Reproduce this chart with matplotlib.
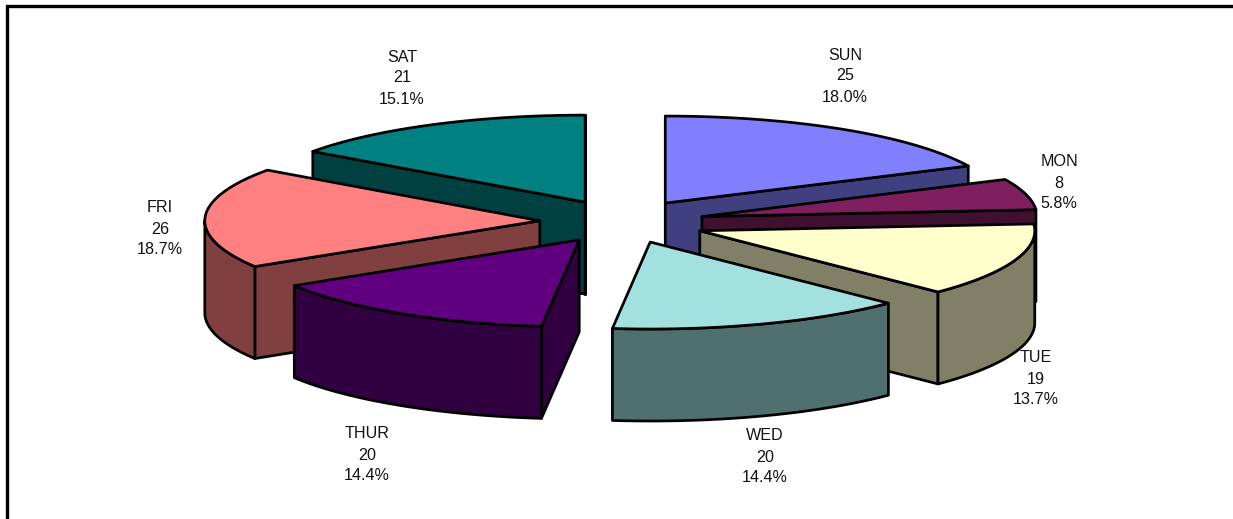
import numpy as np
import matplotlib
matplotlib.use("Agg")
import matplotlib.pyplot as plt
from matplotlib.patches import Polygon

days = ["SUN", "MON", "TUE", "WED", "THUR", "FRI", "SAT"]
counts = [25, 8, 19, 20, 20, 26, 21]

top_colors = ["#8080FF", "#7F1F5F", "#FFFFCC", "#A3E0E0", "#600080", "#FF8080", "#008080"]
side_colors = ["#404080", "#401030", "#808066", "#507070", "#300040", "#804040", "#004040"]
label_centers = [(845, 76), (1059, 183), (1036, 379), (765, 457), (367, 455), (160, 229), (402, 78)]
apex_nudges = [(0.5, 0), (2, 1), (2, 2.5), (2, 1), (2, 1), (0.5, 0.5), (1.5, 0)]
paint_order = [6, 0, 1, 2, 5, 4, 3]

CX, CY = 621.0, 221.0
RX, RY = 335.0, 87.0
DEPTH = 92.0
EXPLODE = 0.244
LW = 1.95

W, H = 1233, 519
fig = plt.figure(figsize=(W / 100, H / 100), dpi=100, facecolor="white")
ax = fig.add_axes([0, 0, 1, 1])
ax.set_xlim(0, W)
ax.set_ylim(H, 0)
ax.axis("off")

plt.rcParams["font.family"] = ["Liberation Sans", "DejaVu Sans"]


def pt(a, r=1.0):
    return np.array([RX * r * np.sin(a), -RY * r * np.cos(a)])


def add(poly, color, z):
    ax.add_patch(Polygon(poly, closed=True, facecolor=color, edgecolor="black",
                         linewidth=LW, joinstyle="round", zorder=z))


def extrude(edge):
    edge = np.asarray(edge)
    return np.vstack([edge, (edge + [0, DEPTH])[::-1]])


total = sum(counts)
edges = np.concatenate([[0], np.cumsum(counts)]) / total * 2 * np.pi
z = 1
for i in paint_order:
    a0, a1 = edges[i], edges[i + 1]
    mid = (a0 + a1) / 2
    apex = np.array([CX, CY]) + pt(mid, EXPLODE) + np.array(apex_nudges[i])
    arc = np.array([apex + pt(a) for a in np.linspace(a0, a1, 80)])

    # radial walls facing the viewer
    if np.sin(a0) <= 1e-9:
        add(extrude([apex, arc[0]]), side_colors[i], z)
        z += 1
    if np.sin(a1) >= -1e-9:
        add(extrude([apex, arc[-1]]), side_colors[i], z)
        z += 1
    # outer rim, front half only
    lo, hi = max(a0, np.pi / 2), min(a1, 3 * np.pi / 2)
    if hi > lo:
        rim = np.array([apex + pt(a) for a in np.linspace(lo, hi, 80)])
        add(extrude(rim), side_colors[i], z)
        z += 1
    add(np.vstack([[apex], arc]), top_colors[i], z)
    z += 1

for day, n, (x, y) in zip(days, counts, label_centers):
    ax.text(x, y, f"{day}\n{n}\n{n / total * 100:.1f}%", ha="center", va="center",
            ma="center", fontsize=11.6, color="#111111", linespacing=1.5,
            family=["Liberation Sans", "DejaVu Sans"], zorder=100)

# outer frame (top and left edges)
ax.plot([7.3, 7.3, W], [H, 5.6, 5.6], color="black", lw=2.4,
        solid_joinstyle="miter", solid_capstyle="butt", zorder=200)

fig.savefig("out.png", dpi=100, facecolor="white")
